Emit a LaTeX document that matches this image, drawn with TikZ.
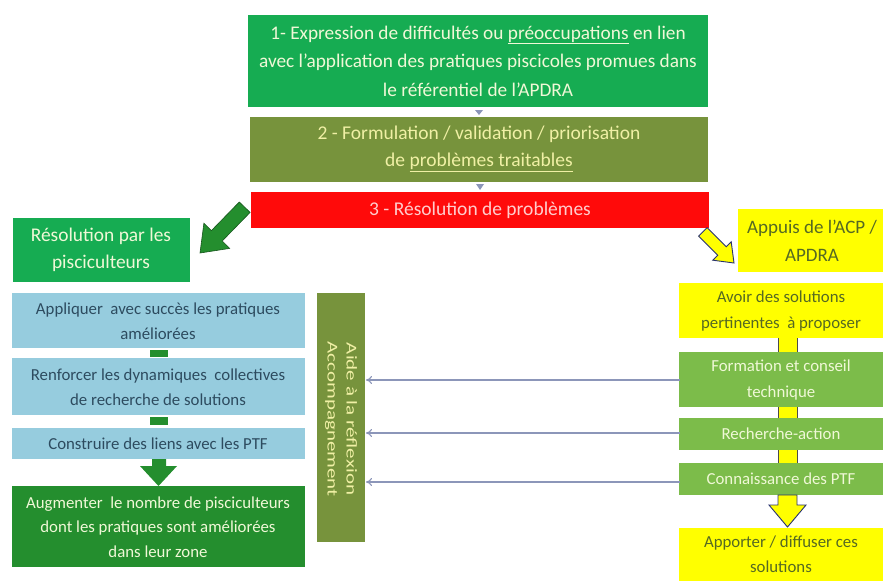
\documentclass[tikz,border=0pt]{standalone}
\usepackage{fontspec}
\setmainfont{Carlito}
\usetikzlibrary{arrows.meta}
\definecolor{gA}{RGB}{22,172,82}
\definecolor{olv}{RGB}{119,147,60}
\definecolor{rd}{RGB}{255,10,10}
\definecolor{lb}{RGB}{150,204,222}
\definecolor{dg}{RGB}{36,142,46}
\definecolor{yl}{RGB}{255,255,0}
\definecolor{rg}{RGB}{124,188,74}
\definecolor{lbtext}{RGB}{45,75,95}
\definecolor{oltext}{RGB}{85,105,35}
\definecolor{arr}{RGB}{140,150,185}
\definecolor{cream}{RGB}{240,248,215}
\definecolor{lyel}{RGB}{240,240,165}
\definecolor{pink}{RGB}{255,205,205}
\definecolor{navy}{RGB}{40,50,110}
\tikzset{
  box/.style={inner sep=0pt, outer sep=0pt, align=center},
  lnk/.style={draw=arr, line width=1.1pt, -{To[length=6pt,width=8pt]}},
  conn/.style={draw=black!70, line width=0.8pt},
}
\begin{document}
\begin{tikzpicture}[x=1pt,y=-1pt]
\useasboundingbox (0,0) rectangle (883,581);
\fill[white] (0,0) rectangle (883,581);
% top boxes
\fill[gA] (248,15) rectangle (708,107);
\node[box, text=cream, font=\fontsize{19.3}{28.5}\selectfont] (b1) at (478,61)
 {1- Expression de difficultés ou \underline{préoccupations} en lien\\avec l’application des pratiques piscicoles promues dans\\le référentiel de l’APDRA};
\fill[olv] (250,117) rectangle (708,182);
\node[box, text=lyel, font=\fontsize{19.5}{27}\selectfont] (b2) at (479,149)
 {2 - Formulation / validation / priorisation\\de \underline{problèmes traitables}};
\fill[rd] (251,192) rectangle (709,228);
\node[box, text=pink, font=\fontsize{19.5}{27}\selectfont] (b3) at (480,210) {3 - Résolution de problèmes};
\fill[arr] (475,110) -- (483,110) -- (479,115) -- cycle;
\fill[arr] (476,184) -- (484,184) -- (480,190) -- cycle;
% green diagonal arrow
\fill[dg] (250.1,212.4) -- (222.2,241.0) -- (229.7,248.4) -- (200,253) -- (203.9,223.2) -- (211.4,230.6) -- (239.3,202.0) -- cycle;
\draw[dg!60!black, line width=0.6pt] (250.1,212.4) -- (222.2,241.0) -- (229.7,248.4) -- (200,253) -- (203.9,223.2) -- (211.4,230.6) -- (239.3,202.0) -- cycle;
% left column
\fill[gA] (13,218) rectangle (190,282);
\node[box, text=cream, font=\fontsize{19.4}{27}\selectfont] (res) at (101,250) {Résolution par les\\pisciculteurs};
\fill[lb] (12,293) rectangle (305,348);
\node[box, text=lbtext, font=\fontsize{16.8}{25}\selectfont] (pa) at (158,321) {Appliquer\ \ avec succès les pratiques\\améliorées};
\fill[dg] (150,350) rectangle (168,357);
\fill[lb] (12,358) rectangle (305,415);
\node[box, text=lbtext, font=\fontsize{16.8}{25}\selectfont] (pb) at (158,387) {Renforcer les dynamiques\ \ collectives\\de recherche de solutions};
\fill[dg] (150,417) rectangle (168,425);
\fill[lb] (12,428) rectangle (305,459);
\node[box, text=lbtext, font=\fontsize{16.8}{25}\selectfont] (pc) at (158,444) {Construire des liens avec les PTF};
\fill[dg] (152,459) rectangle (166,466) (140,466) -- (177,466) -- (158.5,486) -- cycle;
\fill[dg] (12,486) rectangle (305,567);
\node[box, text=cream, font=\fontsize{16.8}{24.5}\selectfont] (pd) at (158,527) {Augmenter\ \ le nombre de pisciculteurs\\dont les pratiques sont améliorées\\dans leur zone};
% vertical bar
\fill[olv] (317,293) rectangle (365,542);
\node[box, text=lyel, rotate=-90, font=\fontsize{15}{20}\selectfont] (bar) at (341,419) {\scalebox{1.4}[1]{\begin{tabular}{@{}c@{}}Aide à la réflexion\\[-1pt]Accompagnement\end{tabular}}};
\coordinate (barR1) at (366,380);
\coordinate (barR2) at (366,433);
\coordinate (barR3) at (366,482);
% right column
\fill[yl] (738,209) rectangle (883,272);
\node[box, text=oltext, font=\fontsize{19}{28}\selectfont] (ap) at (812,241) {Appuis de l’ACP /\\APDRA};
\draw[fill=yl, draw=navy, line width=0.9pt] (707.1,227.7) -- (726.2,246.8) -- (731.2,241.8) -- (734,263) -- (712.8,260.2) -- (717.8,255.2) -- (698.7,236.1) -- cycle;
\fill[yl] (679,283) rectangle (883,338);
\node[box, text=oltext, font=\fontsize{16.8}{26}\selectfont] (r1) at (781,311) {Avoir des solutions\\pertinentes\ \ à proposer};
\fill[yl] (778,338) rectangle (797,352);
\draw[conn] (778,338) -- (778,352) (797,338) -- (797,352);
\fill[rg] (679,352) rectangle (883,407);
\node[box, text=cream, font=\fontsize{16.8}{26}\selectfont] (r2) at (781,380) {Formation et conseil\\technique};
\fill[yl] (778,407) rectangle (797,418);
\draw[conn] (778,407) -- (778,418) (797,407) -- (797,418);
\fill[rg] (679,418) rectangle (883,450);
\node[box, text=cream, font=\fontsize{16.8}{26}\selectfont] (r3) at (781,434) {Recherche-action};
\fill[yl] (778,450) rectangle (797,463);
\draw[conn] (778,450) -- (778,463) (797,450) -- (797,463);
\fill[rg] (679,463) rectangle (883,495);
\node[box, text=cream, font=\fontsize{16.8}{26}\selectfont] (r4) at (781,479) {Connaissance des PTF};
\draw[fill=yl, draw=navy, line width=0.9pt] (778,495) -- (797,495) -- (797,505) -- (806,505) -- (787.5,527) -- (769,505) -- (778,505) -- cycle;
\fill[yl] (679,528) rectangle (883,581);
\node[box, text=oltext, font=\fontsize{16.8}{25}\selectfont] (r5) at (781,554) {Apporter / diffuser ces\\solutions};
\coordinate (rL2) at (680,380);
\coordinate (rL3) at (680,433);
\coordinate (rL4) at (680,482);
\draw[lnk] (rL2) -- (barR1);
\draw[lnk] (rL3) -- (barR2);
\draw[lnk] (rL4) -- (barR3);
\end{tikzpicture}
\end{document}
